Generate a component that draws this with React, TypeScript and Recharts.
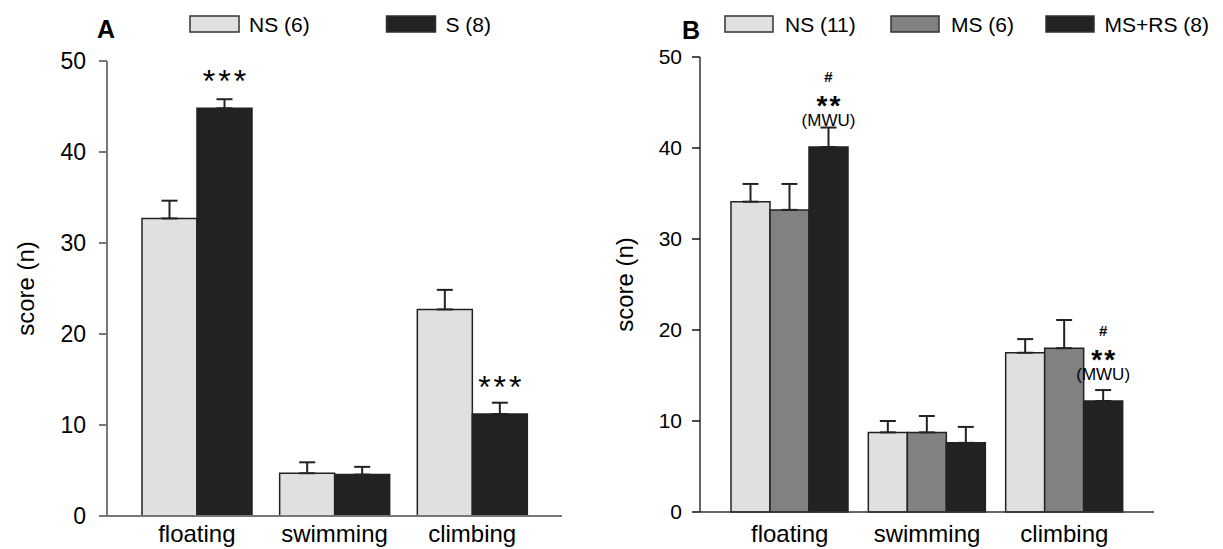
import React from 'react';
import { BarChart, Bar, XAxis, YAxis, ErrorBar, LabelList } from 'recharts';

const FONT = '"Liberation Sans", Arial, Helvetica, sans-serif';

const categories = ['floating', 'swimming', 'climbing'];
const yTicks = [0, 10, 20, 30, 40, 50];

// panel A
const aNames = ['NS (6)', 'S (8)'];
const aNS = [32.7, 4.7, 22.7];
const aNSErr = [1.95, 1.2, 2.15];
const aS = [44.8, 4.55, 11.2];
const aSErr = [1.0, 0.85, 1.25];
const aSStars = ['***', '', '***'];

// panel B
const bNames = ['NS (11)', 'MS (6)', 'MS+RS (8)'];
const bNS = [34.1, 8.75, 17.5];
const bNSErr = [1.95, 1.25, 1.5];
const bMS = [33.2, 8.75, 18.0];
const bMSErr = [2.85, 1.8, 3.1];
const bMSRS = [40.1, 7.6, 12.2];
const bMSRSErr = [2.15, 1.75, 1.2];
const bHash = ['#', '', '#'];
const bStars = ['**', '', '**'];
const bTest = ['(MWU)', '', '(MWU)'];

const LIGHT = '#e0e0e0';
const MID = '#818181';
const DARK = '#222222';
const EDGE = '#222';

const dataA = categories.map((cat, i) => ({
  cat,
  ns: aNS[i],
  nsErr: [0, aNSErr[i]],
  s: aS[i],
  sErr: [0, aSErr[i]],
  stars: aSStars[i],
}));

const dataB = categories.map((cat, i) => ({
  cat,
  ns: bNS[i],
  nsErr: [0, bNSErr[i]],
  ms: bMS[i],
  msErr: [0, bMSErr[i]],
  msrs: bMSRS[i],
  msrsErr: [0, bMSRSErr[i]],
  hash: bHash[i],
  stars: bStars[i],
  test: bTest[i],
}));

const box = (p: any) => {
  const vb = p.viewBox || {};
  return {
    x: vb.x ?? p.x,
    y: vb.y ?? p.y,
    width: vb.width ?? p.width,
  };
};

const starsA = (p: any) => {
  if (!p.value) return null;
  const { x, y, width } = box(p);
  return (
    <text x={x + width / 2 + 1.5} y={y - 16} textAnchor="middle" fontSize={32} letterSpacing={3} fontFamily={FONT} fill="#000">
      {p.value}
    </text>
  );
};

// three stacked lines above the MS+RS bar: #, **, (MWU)
const marksB = (p: any) => {
  const i = p.index;
  if (i == null || !bHash[i]) return null;
  const { x, y, width } = box(p);
  const cx = x + width / 2;
  return (
    <text x={cx} y={y - 65} textAnchor="middle" fontFamily={FONT} fill="#000">
      <tspan x={cx} fontSize={15} fontWeight="bold">{bHash[i]}</tspan>
      <tspan x={cx + 1} dy={33} fontSize={28} fontWeight="bold" letterSpacing={2}>{bStars[i]}</tspan>
      <tspan x={cx} dy={11} fontSize={17}>{bTest[i]}</tspan>
    </text>
  );
};

const yLabel = (dx: number) => (p: any) => {
  const vb = p.viewBox || {};
  const cx = vb.x + dx;
  const cy = vb.y + vb.height / 2;
  return (
    <text x={cx} y={cy} transform={`rotate(-90, ${cx}, ${cy})`} textAnchor="middle" dominantBaseline="central" fontSize={24} fontFamily={FONT} fill="#000">
      score (n)
    </text>
  );
};

const legendA = [
  { box: 190, text: 249, fill: LIGHT },
  { box: 386.5, text: 445.5, fill: DARK },
];
const legendB = [
  { box: 725, text: 785, fill: LIGHT },
  { box: 891, text: 951, fill: MID },
  { box: 1046, text: 1104.5, fill: DARK },
];

export default function App() {
  const axisA = { stroke: '#777', strokeWidth: 2 };
  const axisB = { stroke: '#333', strokeWidth: 1.5 };
  return (
    <div style={{ position: 'absolute', left: 0, top: 0, width: 1223, height: 549, background: '#fff', fontFamily: FONT }}>
      <div style={{ position: 'absolute', left: 0, top: 0 }}>
        <BarChart width={600} height={549} data={dataA} margin={{ top: 61, right: 38, bottom: 3, left: 27 }} barGap={0} barCategoryGap={14}>
          <XAxis
            dataKey="cat"
            interval={0}
            axisLine={axisA}
            tickLine={false}
            tickSize={6}
            tickMargin={3}
            height={30}
            padding={{ left: 21, right: 21 }}
            tick={{ fill: '#000', fontSize: 24, fontFamily: FONT }}
          />
          <YAxis
            domain={[0, 50]}
            ticks={yTicks}
            width={80}
            axisLine={axisA}
            tickLine={axisA}
            tickSize={8}
            tickMargin={13}
            tick={{ fill: '#000', fontSize: 23, fontFamily: FONT }}
            label={yLabel(-1.5)}
          />
          <Bar dataKey="ns" name={aNames[0]} fill={LIGHT} stroke={EDGE} strokeWidth={1.5} isAnimationActive={false}>
            <ErrorBar dataKey="nsErr" width={8} stroke={EDGE} strokeWidth={2} direction="y" />
          </Bar>
          <Bar dataKey="s" name={aNames[1]} fill={DARK} stroke={EDGE} strokeWidth={1.5} isAnimationActive={false}>
            <ErrorBar dataKey="sErr" width={8} stroke={EDGE} strokeWidth={2} direction="y" />
            <LabelList dataKey="stars" content={starsA} />
          </Bar>
        </BarChart>
      </div>

      <div style={{ position: 'absolute', left: 593, top: 0 }}>
        <BarChart width={630} height={549} data={dataB} margin={{ top: 57, right: 69, bottom: 7, left: 27 }} barGap={0} barCategoryGap={10}>
          <XAxis
            dataKey="cat"
            interval={0}
            axisLine={axisB}
            tickLine={false}
            tickSize={6}
            tickMargin={7}
            height={30}
            padding={{ left: 21, right: 21 }}
            tick={{ fill: '#000', fontSize: 24, fontFamily: FONT }}
          />
          <YAxis
            domain={[0, 50]}
            ticks={yTicks}
            width={80}
            axisLine={axisB}
            tickLine={{ stroke: '#111', strokeWidth: 1.5 }}
            tickSize={8}
            tickMargin={10}
            tick={{ fill: '#000', fontSize: 21, fontFamily: FONT }}
            label={yLabel(4)}
          />
          <Bar dataKey="ns" name={bNames[0]} fill={LIGHT} stroke={EDGE} strokeWidth={1.5} isAnimationActive={false}>
            <ErrorBar dataKey="nsErr" width={8} stroke={EDGE} strokeWidth={2} direction="y" />
          </Bar>
          <Bar dataKey="ms" name={bNames[1]} fill={MID} stroke={EDGE} strokeWidth={1.5} isAnimationActive={false}>
            <ErrorBar dataKey="msErr" width={8} stroke={EDGE} strokeWidth={2} direction="y" />
          </Bar>
          <Bar dataKey="msrs" name={bNames[2]} fill={DARK} stroke={EDGE} strokeWidth={1.5} isAnimationActive={false}>
            <ErrorBar dataKey="msrsErr" width={8} stroke={EDGE} strokeWidth={2} direction="y" />
            <LabelList dataKey="hash" content={marksB} />
          </Bar>
        </BarChart>
      </div>

      <svg width={1223} height={60} style={{ position: 'absolute', left: 0, top: 0 }}>
        <text x={97} y={38} fontSize={25} fontWeight="bold" fontFamily={FONT} fill="#000">A</text>
        <text x={682} y={39} fontSize={25} fontWeight="bold" fontFamily={FONT} fill="#000">B</text>
        {legendA.map((l, i) => (
          <g key={`la-${i}`}>
            <rect x={l.box} y={16} width={49} height={16} fill={l.fill} stroke="#333" strokeWidth={1.5} />
            <text x={l.text} y={31.5} fontSize={21} fontFamily={FONT} fill="#000">{aNames[i]}</text>
          </g>
        ))}
        {legendB.map((l, i) => (
          <g key={`lb-${i}`}>
            <rect x={l.box} y={16} width={48} height={16} fill={l.fill} stroke="#333" strokeWidth={1.5} />
            <text x={l.text} y={31.5} fontSize={21} fontFamily={FONT} fill="#000">{bNames[i]}</text>
          </g>
        ))}
      </svg>
    </div>
  );
}
